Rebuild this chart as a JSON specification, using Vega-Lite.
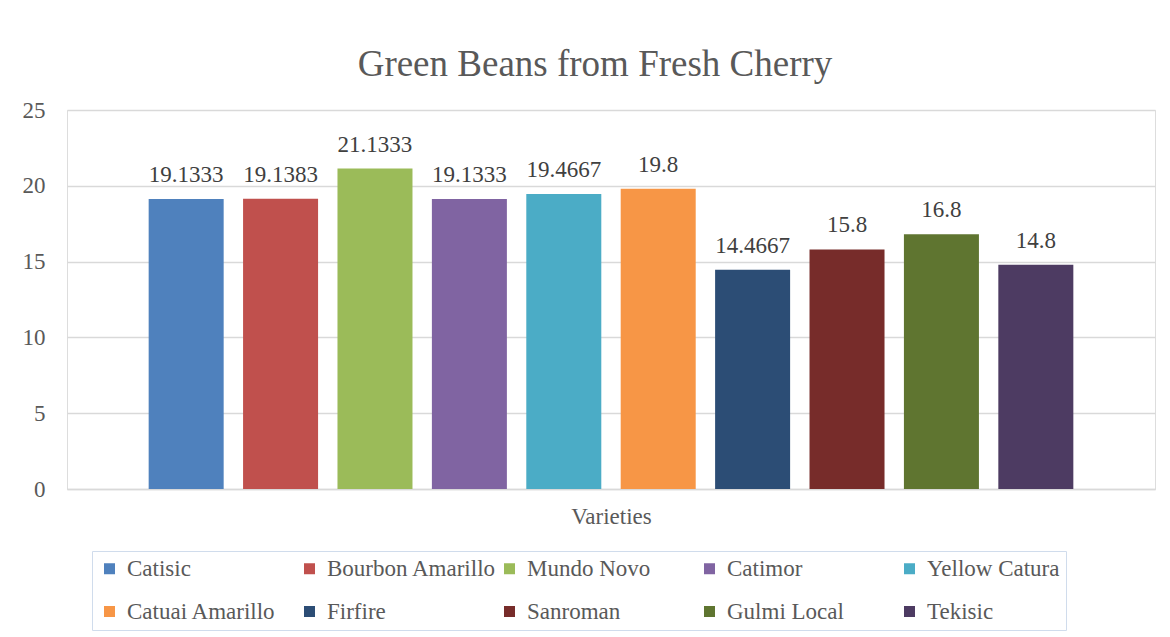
{
  "$schema": "https://vega.github.io/schema/vega-lite/v6.json",
  "width": 1088,
  "height": 379,
  "autosize": {"type": "none"},
  "padding": {"left": 67, "top": 110, "right": 15, "bottom": 148},
  "background": "white",
  "config": {"font": "'Liberation Serif', 'Times New Roman', 'DejaVu Serif', serif"},
  "title": {
    "text": "Green Beans from Fresh Cherry",
    "font": "'Liberation Serif', 'Times New Roman', 'DejaVu Serif', serif",
    "fontSize": 37,
    "fontWeight": "normal",
    "color": "#595959",
    "anchor": "middle",
    "baseline": "alphabetic",
    "offset": -14,
    "dx": -16
  },
  "data": {
    "values": [
      {"variety": "Catisic", "value": 19.1333, "label": "19.1333"},
      {"variety": "Bourbon Amarillo", "value": 19.1383, "label": "19.1383"},
      {"variety": "Mundo Novo", "value": 21.1333, "label": "21.1333"},
      {"variety": "Catimor", "value": 19.1333, "label": "19.1333"},
      {"variety": "Yellow Catura", "value": 19.4667, "label": "19.4667"},
      {"variety": "Catuai Amarillo", "value": 19.8, "label": "19.8"},
      {"variety": "Firfire", "value": 14.4667, "label": "14.4667"},
      {"variety": "Sanroman", "value": 15.8, "label": "15.8"},
      {"variety": "Gulmi Local", "value": 16.8, "label": "16.8"},
      {"variety": "Tekisic", "value": 14.8, "label": "14.8"}
    ]
  },
  "encoding": {
    "x": {
      "field": "variety",
      "type": "nominal",
      "sort": null,
      "scale": {"paddingInner": 0.2055, "paddingOuter": 0.865},
      "axis": {
        "title": "Varieties",
        "labels": false,
        "ticks": false,
        "domain": true,
        "domainColor": "#d9d9d9",
        "domainWidth": 1.3,
        "titleFont": "'Liberation Serif', 'Times New Roman', 'DejaVu Serif', serif",
        "titleFontSize": 23,
        "titleFontWeight": "normal",
        "titleColor": "#595959",
        "titlePadding": 16
      }
    },
    "y": {
      "field": "value",
      "type": "quantitative",
      "scale": {"domain": [0, 25], "nice": false},
      "axis": {
        "title": null,
        "values": [0, 5, 10, 15, 20, 25],
        "ticks": false,
        "domain": false,
        "grid": true,
        "gridColor": "#d9d9d9",
        "gridWidth": 1.3,
        "labelFont": "'Liberation Serif', 'Times New Roman', 'DejaVu Serif', serif",
        "labelFontSize": 23,
        "labelColor": "#595959",
        "labelPadding": 22
      }
    }
  },
  "layer": [
    {
      "mark": {"type": "bar"},
      "encoding": {
        "color": {
          "field": "variety",
          "type": "nominal",
          "sort": null,
          "scale": {
            "domain": ["Catisic", "Bourbon Amarillo", "Mundo Novo", "Catimor", "Yellow Catura", "Catuai Amarillo", "Firfire", "Sanroman", "Gulmi Local", "Tekisic"],
            "range": ["#4F81BD", "#C0504D", "#9BBB59", "#8064A2", "#4BACC6", "#F79646", "#2C4D75", "#772C2A", "#5F7530", "#4D3B62"]
          },
          "legend": {
            "title": null,
            "orient": "none",
            "direction": "horizontal",
            "legendX": 25,
            "legendY": 441,
            "columns": 5,
            "gridAlign": "all",
            "columnPadding": 1,
            "rowPadding": 19,
            "padding": 6,
            "strokeColor": "#d0dcec",
            "symbolType": "square",
            "symbolSize": 121,
            "symbolStrokeWidth": 0,
            "labelOffset": 6,
            "labelFont": "'Liberation Serif', 'Times New Roman', 'DejaVu Serif', serif",
            "labelFontSize": 23,
            "labelColor": "#595959",
            "labelLimit": 300
          }
        }
      }
    },
    {
      "mark": {
        "type": "text",
        "baseline": "alphabetic",
        "dy": -17,
        "font": "'Liberation Serif', 'Times New Roman', 'DejaVu Serif', serif",
        "fontSize": 23,
        "color": "#404040"
      },
      "encoding": {
        "text": {"field": "label", "type": "nominal"}
      }
    }
  ]
}
